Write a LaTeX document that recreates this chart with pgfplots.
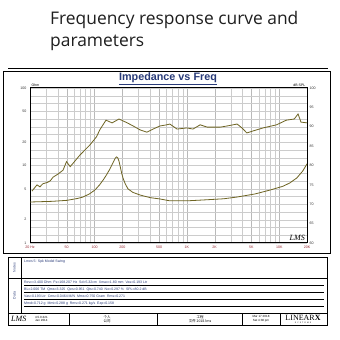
\documentclass[border=0pt]{standalone}
\usepackage{pgfplots}
\pgfplotsset{compat=1.18}
\usepackage{fontspec}
\setmainfont{Liberation Sans}
\newfontfamily\titlefont{Open Sans}
\newfontfamily\serifit{Liberation Serif}
\newfontfamily\cjk{Noto Sans CJK SC}
\definecolor{curve}{RGB}{110,100,35}
\definecolor{ttl}{RGB}{40,58,120}
\definecolor{xlab}{RGB}{150,40,50}
\begin{document}
\begin{tikzpicture}[x=1pt,y=1pt]
\fill[white] (0,0) rectangle (340,340);
% heading
\node[anchor=base west, inner sep=0, font=\titlefont\fontsize{17.4}{20}\selectfont, text=black!88] at (50,315) {Frequency response curve and};
\node[anchor=base west, inner sep=0, font=\titlefont\fontsize{17.4}{20}\selectfont, text=black!88] at (50,293) {parameters};
\draw[line width=1pt] (8,271) -- (328,271);
% chart panel
\draw[line width=0.9pt] (3,87) rectangle (330,269);
\node[font=\bfseries\fontsize{10.8}{12}\selectfont, text=ttl, inner sep=0] (T) at (168,262) {Impedance vs Freq};
\draw[ttl, line width=0.7pt] ([yshift=-1.5pt]T.south west) -- ([yshift=-1.5pt]T.south east);
% SPL axis (linear, right) with grid
\begin{axis}[at={(30pt,97pt)}, anchor=south west, scale only axis,
  width=277pt, height=155pt,
  xmode=log, xmin=20, xmax=20000, ymin=60, ymax=100,
  xtick={20,50,100,200,500,1000,2000,5000,10000,20000},
  xticklabels={20 Hz,50,100,200,500,1K,2K,5K,10K,20K},
  minor xtick={30,40,60,70,80,90,300,400,600,700,800,900,3000,4000,6000,7000,8000,9000},
  ytick={60,65,...,100},
  minor ytick={60,62,...,100},
  yticklabel pos=right,
  /pgf/number format/assume math mode=true,
  xmajorgrids, xminorgrids, yminorgrids,
  major grid style={gray!55, line width=0.3pt},
  minor grid style={gray!40, line width=0.25pt},
  axis line style={line width=1pt},
  tick style={draw=none},
  tick label style={font=\fontsize{3.6}{4.5}\selectfont},
  xticklabel style={text=xlab, yshift=1pt},
  yticklabel style={text=black!80, xshift=-1pt},
  clip=false,
]
\addplot[curve, line width=0.8pt] coordinates {
(21,73.4) (23.8,75.0) (25.6,74.5) (27.6,75.3) (30.6,75.6) (33,76.0) (35.6,77.0)
(40.3,77.8) (45.6,78.8) (49.7,81.0) (54.5,79.7) (69.5,82.7) (89,85.3) (105,87.4)
(114,89.2) (133,91.7) (155,91.0) (184,92.0) (226,91.0) (262,90.2) (311,89.2)
(369,88.6) (430,89.4) (511,90.2) (606,90.5) (654,90.7) (782,89.4) (1000,89.7)
(1164,89.4) (1393,90.5) (1659,89.9) (2295,89.9) (2729,90.2) (3499,90.7) (3950,89.7)
(4460,88.4) (5180,88.9) (6700,89.7) (9360,90.5) (11950,91.7) (14560,92.0)
(16000,93.3) (17200,91.2) (20000,91.0)};
\end{axis}
% impedance axis (log, left)
\begin{axis}[at={(30pt,97pt)}, anchor=south west, scale only axis,
  width=277pt, height=155pt,
  xmode=log, ymode=log, xmin=20, xmax=20000, ymin=1, ymax=100,
  axis x line=none, axis y line*=left,
  ytick={1,2,5,10,20,50,100}, yticklabels={1,2,5,10,20,50,100},
  minor ytick={},
  axis line style={line width=1pt},
  tick style={draw=none},
  tick label style={font=\fontsize{3.6}{4.5}\selectfont},
  yticklabel style={text=black!80},
]
\addplot[curve, line width=0.8pt] coordinates {
(20,3.38) (35,3.45) (50,3.55) (65,3.75) (75,3.92) (88,4.3) (101,4.83) (113,5.6)
(124,6.5) (135,7.6) (145,8.8) (155,10.3) (163,11.6) (168,12.5) (173,12.9) (178,12.6)
(184,11.4) (190,9.6) (197,7.9) (205,6.7) (215,5.8) (230,5.0) (260,4.5) (311,4.16)
(400,3.85) (511,3.70) (654,3.5) (1000,3.5) (1495,3.59) (2500,3.72) (3500,3.92)
(5500,4.3) (8000,4.83) (11000,5.4) (13000,5.95) (15500,6.9) (18000,8.5) (20000,10.5)};
\end{axis}
\node[anchor=south west, font=\fontsize{3.5}{4}\selectfont, inner sep=0.5pt] at (31,252.5) {Ohm};
\node[anchor=south east, font=\fontsize{3.5}{4}\selectfont, inner sep=0.5pt] at (306,252.5) {dB SPL};
\node[anchor=south east, font=\serifit\itshape\fontsize{8}{9}\selectfont, inner sep=0] at (305,99) {LMS};
% table
\draw[line width=0.8pt] (8,15) rectangle (327,83);
\draw[line width=0.6pt] (8,62) -- (327,62);
\draw[line width=0.8pt] (8,27) -- (327,27);
\draw[line width=0.5pt] (21,27) -- (21,83);
\node[rotate=90, font=\fontsize{3.5}{4}\selectfont, text=ttl] at (14.5,72.5) {Notes};
\node[rotate=90, font=\fontsize{3.5}{4}\selectfont, text=ttl] at (14.5,44.5) {Data};
\node[anchor=west, font=\fontsize{3.5}{4}\selectfont, inner sep=0, text=ttl] at (24,78) {Lmes 5: Spk Model Swing};
\foreach \yy/\tt in {56/{Revc=3.400 Ohm \ Fs=168.207 Hz \ Sd=5.32cm \ Xmax=1.80 mm \ Vas=0.193 Ltr},
                     49/{BL=2.006 TM \ Qms=3.325 \ Qes=0.951 \ Qts=0.740 \ No=0.297 \% \ SPL=80.2 dB},
                     42/{Vas=0.193 Ltr \ Cms=0.0464 M/N \ Mms=0.750 Gram \ Rms=0.271},
                     35/{Mmd=0.712 g \ Mmi=0.288 g \ Rms=0.271 kg/s \ Ezp=0.158}}{
  \node[anchor=base west, font=\fontsize{3.5}{4}\selectfont, inner sep=0, text=ttl] at (24,\yy) {\tt};
  \draw[line width=0.35pt] (24,\yy-1.2) -- (324,\yy-1.2);
}
\foreach \xx in {69,157,242,280}{\draw[line width=0.6pt] (\xx,15) -- (\xx,27);}
\node[anchor=west, font=\serifit\itshape\fontsize{8}{9}\selectfont, inner sep=0] at (11,21) {LMS};
\node[anchor=west, font=\fontsize{3}{3.5}\selectfont, inner sep=0, align=left] at (35,21) {4.5.0.321\\Jan 2014};
\node[font=\cjk\fontsize{3.5}{4.2}\selectfont, inner sep=0, align=center] at (107,21) {个人\\公司};
\node[font=\cjk\fontsize{3.5}{4.2}\selectfont, inner sep=0, align=center] at (200,21) {工程\\文件 2018.lms};
\node[font=\fontsize{3}{3.6}\selectfont, inner sep=0, align=center] at (261,21) {Mar 17 2018\\Sat 4:38 pm};
\node[font=\serifit\fontsize{8}{9}\selectfont, inner sep=0] at (303,22) {LINEAR\textbf{X}};
\node[font=\fontsize{2}{2.4}\selectfont, inner sep=0] at (303,17) {S \ Y \ S \ T \ E \ M \ S};
\end{tikzpicture}
\end{document}
